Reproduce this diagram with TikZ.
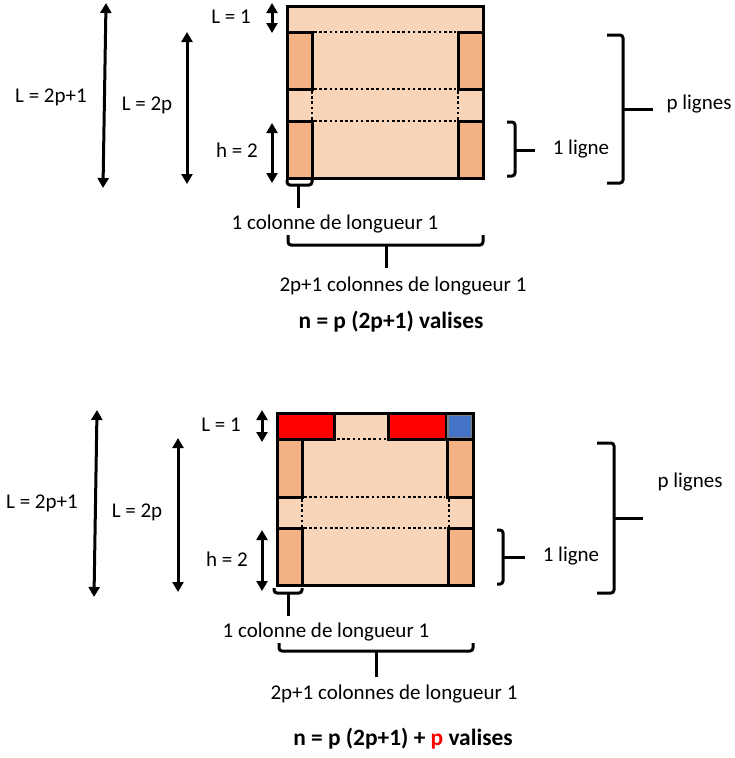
\documentclass[tikz,border=0pt]{standalone}
\usepackage{fontspec}
\setmainfont{Carlito}
\usetikzlibrary{arrows.meta}
\definecolor{light}{HTML}{F8D4B9}
\definecolor{dark}{HTML}{F4B183}
\definecolor{myred}{HTML}{FF0000}
\definecolor{myblue}{HTML}{4472C4}
\begin{document}
\begin{tikzpicture}[x=1pt,y=-1pt,
 lbl/.style={font=\fontsize{21}{24}\selectfont, inner sep=0pt, text height=13.5pt, text depth=4.5pt},
 ttl/.style={font=\fontsize{23.4}{27}\selectfont\bfseries, inner sep=0pt, text height=15pt, text depth=5pt},
 dim/.style={line width=3pt, {Triangle[length=10pt,width=11pt]}-{Triangle[length=10pt,width=11pt]}},
 brk/.style={line width=3pt, rounded corners=3pt},
 tick/.style={line width=3pt},
 blk/.style={draw=black, line width=3pt},
 dots/.style={line width=2.8pt, black, dash pattern=on 2.6pt off 2.6pt}]
\useasboundingbox (0,0) rectangle (735,758);

% ================= TOP DIAGRAM =================
\fill[light] (287,6) rectangle (483,178);
\draw[blk, fill=dark] (287,32) rectangle (312,89);
\draw[blk, fill=dark] (458,32) rectangle (483,89);
\draw[blk, fill=dark] (287,121) rectangle (312,178);
\draw[blk, fill=dark] (458,121) rectangle (483,178);
\draw[dots] (314,32) -- (456,32);
\draw[dots] (314,89) -- (456,89);
\draw[dots] (314,121) -- (456,121);
\draw[dots] (312,91) -- (312,133);
\draw[dots] (458,91) -- (458,121);
\draw[blk] (287,6) rectangle (483,178);

% dimension arrows
\coordinate (a1t) at (106,3);   \coordinate (a1b) at (103,188);
\coordinate (a2t) at (187,32);  \coordinate (a2b) at (187,184);
\coordinate (a3t) at (272,3);   \coordinate (a3b) at (272,33);
\coordinate (a4t) at (272,123); \coordinate (a4b) at (272,183);
\draw[dim] (a1t) -- (a1b);
\draw[dim] (a2t) -- (a2b);
\draw[dim] (a3t) -- (a3b);
\draw[dim] (a4t) -- (a4b);
\node[lbl] (tL21) at (51,98) {L = 2p+1};
\node[lbl] (tL2)  at (147,106) {L = 2p};
\node[lbl] (tL1)  at (231,19) {L = 1};
\node[lbl] (th2)  at (237,153) {h = 2};

% right brackets
\draw[brk] (507,122) -- (515,122) -- (515,176) -- (507,176);
\coordinate (b1) at (515,150);
\node[lbl] (t1l) at (581,150) {1 ligne};
\draw[tick] (b1) -- (535,150);
\draw[brk] (607,35) -- (623,35) -- (623,183) -- (607,183);
\coordinate (b2) at (623,109);
\node[lbl] (tpl) at (699,105) {p lignes};
\draw[tick] (b2) -- (653,109);

% bottom brackets
\draw[brk] (287,180) -- (287,185) -- (312,185) -- (312,180);
\coordinate (c1) at (298,185);
\draw[tick] (c1) -- (298,208);
\node[lbl] (t1c) at (335,225) {1 colonne de longueur 1};
\draw[brk] (288,235) -- (288,245) -- (483,245) -- (483,235);
\coordinate (c2) at (386,245);
\draw[tick] (c2) -- (386,268);
\node[lbl] (t2c) at (403,287) {2p+1 colonnes de longueur 1};
\node[ttl] (tn1) at (391,323) {n = p (2p+1) valises};

% ================= BOTTOM DIAGRAM =================
\fill[light] (277,413) rectangle (473,585);
\draw[blk, fill=myred] (277,413) rectangle (334,439);
\draw[blk, fill=myred] (388,413) rectangle (446,439);
\draw[draw=black!50, line width=2pt, fill=myblue] (447.5,414.5) rectangle (471.5,437.5);
\draw[blk, fill=dark] (277,439) rectangle (302,497);
\draw[blk, fill=dark] (447,439) rectangle (473,497);
\draw[blk, fill=dark] (277,528) rectangle (302,585);
\draw[blk, fill=dark] (448,528) rectangle (473,585);
\draw[dots] (337,439) -- (386,439);
\draw[dots] (304,497) -- (445,497);
\draw[dots] (304,528) -- (446,528);
\draw[dots] (302,499) -- (302,545);
\draw[dots] (449,499) -- (449,528);
\draw[blk] (277,413) rectangle (473,585);

\coordinate (d1t) at (97,410);  \coordinate (d1b) at (94,597);
\coordinate (d2t) at (178,438); \coordinate (d2b) at (178,592);
\coordinate (d3t) at (262,410); \coordinate (d3b) at (262,442);
\coordinate (d4t) at (262,530); \coordinate (d4b) at (262,591);
\draw[dim] (d1t) -- (d1b);
\draw[dim] (d2t) -- (d2b);
\draw[dim] (d3t) -- (d3b);
\draw[dim] (d4t) -- (d4b);
\node[lbl] (uL21) at (42,504) {L = 2p+1};
\node[lbl] (uL2)  at (137,513) {L = 2p};
\node[lbl] (uL1)  at (221,427) {L = 1};
\node[lbl] (uh2)  at (227,562) {h = 2};

\draw[brk] (497,530) -- (503,530) -- (503,584) -- (497,584);
\coordinate (e1) at (503,557);
\draw[tick] (e1) -- (525,557);
\node[lbl] (u1l) at (571,557) {1 ligne};
\draw[brk] (597,443) -- (614,443) -- (614,593) -- (597,593);
\coordinate (e2) at (614,518);
\draw[tick] (e2) -- (643,518);
\node[lbl] (upl) at (690,483) {p lignes};

\draw[brk] (274,588) -- (274,593) -- (302,593) -- (302,588);
\coordinate (f1) at (288,593);
\draw[tick] (f1) -- (288,616);
\node[lbl] (u1c) at (326,633) {1 colonne de longueur 1};
\draw[brk] (279,643) -- (279,651) -- (473,651) -- (473,643);
\coordinate (f2) at (376,651);
\draw[tick] (f2) -- (376,677);
\node[lbl] (u2c) at (394,695) {2p+1 colonnes de longueur 1};
\node[ttl] (un2) at (403,740) {n = p (2p+1) + \textcolor{myred}{p} valises};
\end{tikzpicture}
\end{document}
